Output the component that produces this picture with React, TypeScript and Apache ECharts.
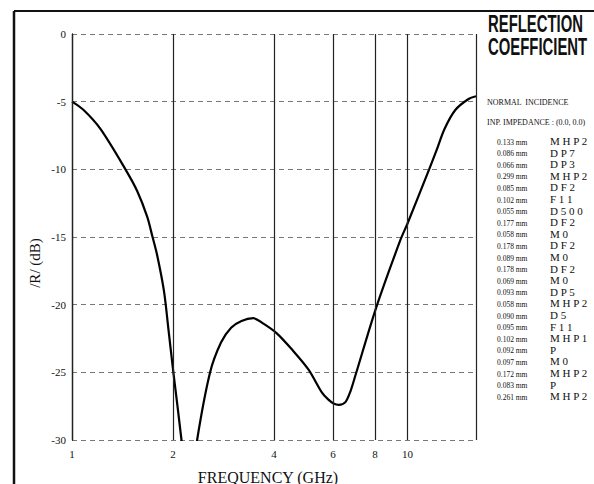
import React, { useEffect, useRef } from "react";
import * as echarts from "echarts";

const freqGHz = [1, 1.081, 1.214, 1.443, 1.564, 1.675, 1.738, 1.796, 1.88, 1.94, 2.005, 2.12, 2.22, 2.36, 2.58, 2.78, 2.98, 3.2, 3.47, 3.72, 4.07, 4.52, 5.07, 5.56, 5.8, 6.02, 6.24, 6.53, 6.76, 7.0, 8.07, 9.53, 10, 11.6, 12.2, 12.9, 13.9, 15.2, 16];
const reflDb = [-5, -5.6, -7.0, -10, -11.6, -13.5, -15, -16.4, -19.0, -21.9, -25, -30, -35, -30, -25, -22.8, -21.7, -21.2, -21.0, -21.4, -22.1, -23.3, -24.8, -26.5, -27.0, -27.3, -27.4, -27.2, -26.4, -25.2, -20.2, -15.2, -14.0, -10, -8.6, -7.0, -5.6, -4.8, -4.6];
const xTicks = [1, 2, 4, 6, 8, 10];
const xMax = 16;
const titleLines = ["REFLECTION", "COEFFICIENT"];
const infoLines = ["NORMAL  INCIDENCE", "INP. IMPEDANCE : (0.0, 0.0)"];
const thickness = ["0.133 mm", "0.086 mm", "0.066 mm", "0.299 mm", "0.085 mm", "0.102 mm", "0.055 mm", "0.177 mm", "0.058 mm", "0.178 mm", "0.089 mm", "0.178 mm", "0.069 mm", "0.093 mm", "0.058 mm", "0.090 mm", "0.095 mm", "0.102 mm", "0.092 mm", "0.097 mm", "0.172 mm", "0.083 mm", "0.261 mm"];
const material = ["MHP2", "DP7", "DP3", "MHP2", "DF2", "F11", "D500", "DF2", "M0", "DF2", "M0", "DF2", "M0", "DP5", "MHP2", "D5", "F11", "MHP1", "P", "M0", "MHP2", "P", "MHP2"];

const SERIF = "'Liberation Serif', 'Times New Roman', serif";

export default function App() {
  const ref = useRef<HTMLDivElement>(null);
  useEffect(() => {
    if (!ref.current) return;
    const chart = echarts.init(ref.current, null, { renderer: "svg" });
    const graphic: any[] = [
      { type: "line", shape: { x1: 14, y1: 11, x2: 594, y2: 11 }, style: { stroke: "#111", lineWidth: 2 } },
      { type: "line", shape: { x1: 14, y1: 11, x2: 14, y2: 484 }, style: { stroke: "#111", lineWidth: 2.5 } },
      { type: "text", x: 35, y: 263, rotation: Math.PI / 2, style: { text: "/R/ (dB)", font: `15px ${SERIF}`, fill: "#111", textAlign: "center", textVerticalAlign: "middle" } },
      { type: "text", x: 268, y: 477, style: { text: "FREQUENCY (GHz)", font: `16px ${SERIF}`, fill: "#111", textAlign: "center", textVerticalAlign: "middle" } },
    ];
    titleLines.forEach((t, i) => {
      graphic.push({ type: "text", x: 488, y: 24 + i * 23, scaleX: 0.62, style: { text: t, font: `bold 24px 'Liberation Sans', Arial, sans-serif`, fill: "#111", textAlign: "left", textVerticalAlign: "middle" } });
    });
    infoLines.forEach((t, i) => {
      graphic.push({ type: "text", x: 487, y: 102 + i * 20, style: { text: t, font: `8px ${SERIF}`, fill: "#111", textAlign: "left", textVerticalAlign: "middle" } });
    });
    thickness.forEach((t, i) => {
      graphic.push({ type: "text", x: 497, y: 142 + i * 11.6, style: { text: t, font: `7.5px ${SERIF}`, fill: "#111", textAlign: "left", textVerticalAlign: "middle" } });
      graphic.push({ type: "text", x: 550, y: 141 + i * 11.6, style: { text: material[i].split("").join(" "), font: `11px ${SERIF}`, fill: "#111", textAlign: "left", textVerticalAlign: "middle" } });
    });
    chart.setOption({
      animation: false,
      backgroundColor: "#fff",
      grid: { left: 72, right: 118, top: 34, bottom: 44 },
      xAxis: {
        type: "log",
        logBase: 10,
        min: 1,
        max: xMax,
        axisLine: { show: false },
        axisTick: { show: false },
        axisLabel: { show: false },
        splitLine: { show: false },
      },
      yAxis: {
        type: "value",
        min: -30,
        max: 0,
        interval: 5,
        axisLine: { show: true, lineStyle: { color: "#111", width: 1.3 } },
        axisTick: { show: false },
        axisLabel: { color: "#111", fontFamily: SERIF, fontSize: 11, margin: 6 },
        splitLine: { show: true, lineStyle: { color: "#777", width: 1, type: [5, 4] } },
      },
      graphic,
      series: [
        {
          type: "line",
          data: freqGHz.map((f, i) => [f, reflDb[i]]),
          showSymbol: false,
          symbol: "none",
          smooth: 0.3,
          clip: true,
          lineStyle: { color: "#000", width: 2.2 },
          markLine: {
            silent: true,
            symbol: ["none", "none"],
            lineStyle: { color: "#222", width: 1.2, type: "solid" },
            label: { show: true, position: "start", distance: 8, color: "#111", fontFamily: SERIF, fontSize: 11, formatter: (p: any) => String(p.value) },
            data: xTicks.map((v) => ({ xAxis: v })).concat([{ xAxis: xMax, label: { show: false } } as any]),
          },
        },
      ],
    });
    return () => chart.dispose();
  }, []);
  return <div ref={ref} style={{ width: 594, height: 484, position: "absolute", left: 0, top: 0 }} />;
}
